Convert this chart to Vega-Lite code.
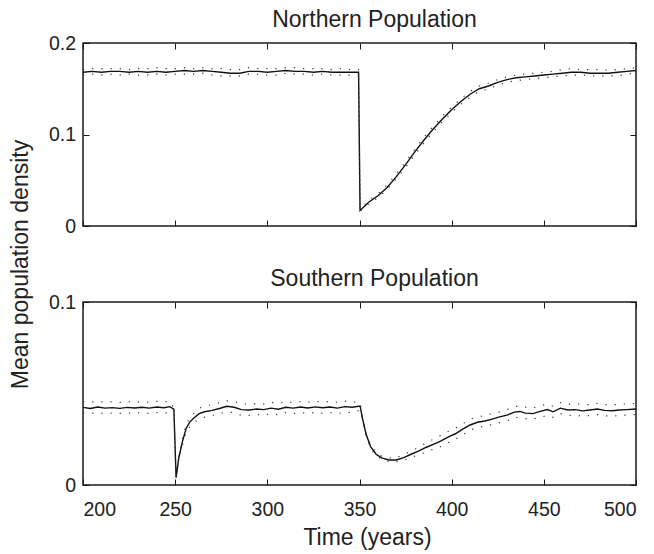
{
  "$schema": "https://vega.github.io/schema/vega-lite/v6.json",
  "padding": {"left": 8, "top": 8, "right": 5, "bottom": 5},
  "bounds": "flush",
  "spacing": 76,
  "datasets": {
    "north": [
      {"t":200,"m":0.168,"lo":0.165,"hi":0.171},{"t":205,"m":0.169,"lo":0.166,"hi":0.172},{"t":210,"m":0.168,"lo":0.165,"hi":0.172},{"t":215,"m":0.169,"lo":0.166,"hi":0.172},{"t":220,"m":0.169,"lo":0.165,"hi":0.172},{"t":225,"m":0.168,"lo":0.166,"hi":0.171},{"t":230,"m":0.169,"lo":0.165,"hi":0.172},{"t":235,"m":0.168,"lo":0.165,"hi":0.172},{"t":240,"m":0.169,"lo":0.166,"hi":0.173},{"t":245,"m":0.168,"lo":0.165,"hi":0.172},{"t":250,"m":0.169,"lo":0.166,"hi":0.172},{"t":255,"m":0.170,"lo":0.166,"hi":0.173},{"t":260,"m":0.169,"lo":0.166,"hi":0.172},{"t":265,"m":0.170,"lo":0.167,"hi":0.173},{"t":270,"m":0.169,"lo":0.165,"hi":0.172},{"t":275,"m":0.168,"lo":0.164,"hi":0.172},{"t":280,"m":0.167,"lo":0.164,"hi":0.171},{"t":285,"m":0.167,"lo":0.164,"hi":0.171},{"t":290,"m":0.169,"lo":0.166,"hi":0.173},{"t":295,"m":0.169,"lo":0.166,"hi":0.172},{"t":300,"m":0.168,"lo":0.165,"hi":0.172},{"t":305,"m":0.169,"lo":0.165,"hi":0.172},{"t":310,"m":0.170,"lo":0.167,"hi":0.173},{"t":315,"m":0.169,"lo":0.166,"hi":0.173},{"t":320,"m":0.169,"lo":0.166,"hi":0.172},{"t":325,"m":0.168,"lo":0.165,"hi":0.172},{"t":330,"m":0.169,"lo":0.166,"hi":0.172},{"t":335,"m":0.168,"lo":0.165,"hi":0.171},{"t":340,"m":0.168,"lo":0.165,"hi":0.172},{"t":345,"m":0.168,"lo":0.165,"hi":0.171},{"t":349.5,"m":0.168,"lo":0.165,"hi":0.171},
      {"t":350.3,"m":0.017,"lo":0.016,"hi":0.018},{"t":355,"m":0.026,"lo":0.024,"hi":0.028},{"t":360,"m":0.033,"lo":0.031,"hi":0.035},{"t":365,"m":0.042,"lo":0.040,"hi":0.045},{"t":370,"m":0.054,"lo":0.052,"hi":0.057},{"t":375,"m":0.067,"lo":0.064,"hi":0.070},{"t":380,"m":0.081,"lo":0.078,"hi":0.084},{"t":385,"m":0.094,"lo":0.091,"hi":0.097},{"t":390,"m":0.106,"lo":0.103,"hi":0.109},{"t":395,"m":0.117,"lo":0.114,"hi":0.120},{"t":400,"m":0.127,"lo":0.124,"hi":0.130},{"t":405,"m":0.136,"lo":0.133,"hi":0.139},{"t":410,"m":0.144,"lo":0.141,"hi":0.147},{"t":415,"m":0.150,"lo":0.147,"hi":0.153},{"t":420,"m":0.153,"lo":0.150,"hi":0.156},{"t":425,"m":0.157,"lo":0.154,"hi":0.160},{"t":430,"m":0.160,"lo":0.157,"hi":0.163},{"t":435,"m":0.162,"lo":0.159,"hi":0.165},{"t":440,"m":0.163,"lo":0.160,"hi":0.166},{"t":445,"m":0.164,"lo":0.161,"hi":0.167},{"t":450,"m":0.165,"lo":0.162,"hi":0.168},{"t":455,"m":0.166,"lo":0.163,"hi":0.169},{"t":460,"m":0.167,"lo":0.164,"hi":0.171},{"t":465,"m":0.168,"lo":0.165,"hi":0.172},{"t":470,"m":0.168,"lo":0.165,"hi":0.171},{"t":475,"m":0.167,"lo":0.164,"hi":0.171},{"t":480,"m":0.167,"lo":0.164,"hi":0.171},{"t":485,"m":0.167,"lo":0.164,"hi":0.170},{"t":490,"m":0.168,"lo":0.164,"hi":0.171},{"t":495,"m":0.169,"lo":0.166,"hi":0.172},{"t":500,"m":0.170,"lo":0.167,"hi":0.173}
    ],
    "south": [
      {"t":200,"m":0.0424,"lo":0.0394,"hi":0.0455},{"t":204,"m":0.0418,"lo":0.0392,"hi":0.0452},{"t":208,"m":0.0426,"lo":0.0395,"hi":0.0457},{"t":212,"m":0.0420,"lo":0.0390,"hi":0.0452},{"t":216,"m":0.0423,"lo":0.0393,"hi":0.0455},{"t":220,"m":0.0419,"lo":0.0391,"hi":0.0451},{"t":224,"m":0.0424,"lo":0.0394,"hi":0.0456},{"t":228,"m":0.0421,"lo":0.0392,"hi":0.0453},{"t":232,"m":0.0425,"lo":0.0395,"hi":0.0455},{"t":236,"m":0.0420,"lo":0.0391,"hi":0.0452},{"t":240,"m":0.0426,"lo":0.0396,"hi":0.0457},{"t":244,"m":0.0422,"lo":0.0392,"hi":0.0455},{"t":247,"m":0.0428,"lo":0.0397,"hi":0.0458},{"t":249.3,"m":0.0415,"lo":0.0410,"hi":0.0420},
      {"t":250.5,"m":0.0040,"lo":0.0040,"hi":0.0045},{"t":252,"m":0.0150,"lo":0.0140,"hi":0.0160},{"t":254,"m":0.0240,"lo":0.0220,"hi":0.0260},{"t":256,"m":0.0310,"lo":0.0290,"hi":0.0330},{"t":258,"m":0.0345,"lo":0.0320,"hi":0.0370},{"t":260,"m":0.0365,"lo":0.0340,"hi":0.0390},{"t":263,"m":0.0390,"lo":0.0360,"hi":0.0420},{"t":266,"m":0.0400,"lo":0.0370,"hi":0.0430},{"t":270,"m":0.0408,"lo":0.0380,"hi":0.0440},{"t":274,"m":0.0418,"lo":0.0390,"hi":0.0450},{"t":278,"m":0.0430,"lo":0.0400,"hi":0.0460},{"t":282,"m":0.0425,"lo":0.0395,"hi":0.0455},{"t":286,"m":0.0412,"lo":0.0380,"hi":0.0445},{"t":290,"m":0.0410,"lo":0.0380,"hi":0.0440},{"t":294,"m":0.0415,"lo":0.0385,"hi":0.0445},{"t":298,"m":0.0412,"lo":0.0382,"hi":0.0442},{"t":302,"m":0.0420,"lo":0.0390,"hi":0.0452},{"t":306,"m":0.0414,"lo":0.0384,"hi":0.0446},{"t":310,"m":0.0425,"lo":0.0395,"hi":0.0455},{"t":314,"m":0.0420,"lo":0.0390,"hi":0.0450},{"t":318,"m":0.0426,"lo":0.0396,"hi":0.0456},{"t":322,"m":0.0421,"lo":0.0390,"hi":0.0452},{"t":326,"m":0.0427,"lo":0.0397,"hi":0.0458},{"t":330,"m":0.0422,"lo":0.0392,"hi":0.0453},{"t":334,"m":0.0426,"lo":0.0396,"hi":0.0456},{"t":338,"m":0.0420,"lo":0.0390,"hi":0.0452},{"t":342,"m":0.0428,"lo":0.0398,"hi":0.0458},{"t":346,"m":0.0425,"lo":0.0395,"hi":0.0455},
      {"t":350.3,"m":0.0432,"lo":0.0410,"hi":0.0450},{"t":351.7,"m":0.0360,"lo":0.0350,"hi":0.0370},{"t":353.5,"m":0.0280,"lo":0.0270,"hi":0.0290},{"t":356,"m":0.0210,"lo":0.0200,"hi":0.0220},{"t":359,"m":0.0168,"lo":0.0160,"hi":0.0178},{"t":362,"m":0.0148,"lo":0.0140,"hi":0.0158},{"t":366,"m":0.0137,"lo":0.0128,"hi":0.0148},{"t":370,"m":0.0137,"lo":0.0127,"hi":0.0150},{"t":374,"m":0.0150,"lo":0.0135,"hi":0.0165},{"t":378,"m":0.0168,"lo":0.0150,"hi":0.0186},{"t":382,"m":0.0185,"lo":0.0165,"hi":0.0205},{"t":386,"m":0.0205,"lo":0.0180,"hi":0.0230},{"t":390,"m":0.0222,"lo":0.0195,"hi":0.0250},{"t":394,"m":0.0240,"lo":0.0210,"hi":0.0270},{"t":398,"m":0.0262,"lo":0.0230,"hi":0.0292},{"t":402,"m":0.0280,"lo":0.0250,"hi":0.0310},{"t":406,"m":0.0305,"lo":0.0275,"hi":0.0335},{"t":410,"m":0.0328,"lo":0.0300,"hi":0.0360},{"t":414,"m":0.0343,"lo":0.0315,"hi":0.0372},{"t":418,"m":0.0350,"lo":0.0320,"hi":0.0380},{"t":422,"m":0.0360,"lo":0.0330,"hi":0.0390},{"t":426,"m":0.0372,"lo":0.0340,"hi":0.0400},{"t":430,"m":0.0382,"lo":0.0350,"hi":0.0412},{"t":434,"m":0.0398,"lo":0.0368,"hi":0.0428},{"t":437,"m":0.0402,"lo":0.0370,"hi":0.0432},{"t":440,"m":0.0393,"lo":0.0363,"hi":0.0425},{"t":444,"m":0.0390,"lo":0.0360,"hi":0.0420},{"t":448,"m":0.0402,"lo":0.0370,"hi":0.0432},{"t":452,"m":0.0412,"lo":0.0380,"hi":0.0442},{"t":455,"m":0.0400,"lo":0.0370,"hi":0.0430},{"t":459,"m":0.0420,"lo":0.0390,"hi":0.0450},{"t":463,"m":0.0410,"lo":0.0380,"hi":0.0440},{"t":467,"m":0.0412,"lo":0.0382,"hi":0.0445},{"t":471,"m":0.0405,"lo":0.0375,"hi":0.0438},{"t":475,"m":0.0410,"lo":0.0380,"hi":0.0440},{"t":479,"m":0.0415,"lo":0.0385,"hi":0.0446},{"t":483,"m":0.0408,"lo":0.0378,"hi":0.0440},{"t":487,"m":0.0406,"lo":0.0376,"hi":0.0437},{"t":491,"m":0.0410,"lo":0.0380,"hi":0.0442},{"t":495,"m":0.0412,"lo":0.0382,"hi":0.0443},{"t":500,"m":0.0415,"lo":0.0385,"hi":0.0446}
    ]
  },
  "vconcat": [
    {
      "title": {"text": "Northern Population"},
      "width": 553,
      "height": 183,
      "data": {"name": "north"},
      "layer": [
        {
          "mark": {"type": "line", "color": "#111", "strokeWidth": 1.4},
          "encoding": {
            "x": {"field": "t", "type": "quantitative", "scale": {"domain": [200, 500], "nice": false, "zero": false},
                  "axis": {"values": [200, 250, 300, 350, 400, 450, 500], "labels": false, "title": null}},
            "y": {"field": "m", "type": "quantitative", "scale": {"domain": [0, 0.2], "nice": false},
                  "axis": {"values": [0, 0.1, 0.2], "format": "~g", "title": "Mean population density", "titleX": -56, "titleY": 221, "titleBaseline": "alphabetic", "titleAngle": -90, "titleAlign": "center"}}
          }
        },
        {
          "mark": {"type": "line", "color": "#333", "strokeDash": [1.2, 8], "strokeWidth": 1.2},
          "encoding": {
            "x": {"field": "t", "type": "quantitative", "axis": {"orient": "top", "values": [200, 250, 300, 350, 400, 450, 500], "labels": false, "title": null}},
            "y": {"field": "lo", "type": "quantitative", "axis": {"orient": "right", "values": [0, 0.1, 0.2], "labels": false, "title": null}}
          }
        },
        {
          "mark": {"type": "line", "color": "#333", "strokeDash": [1.2, 8], "strokeWidth": 1.2},
          "encoding": {
            "x": {"field": "t", "type": "quantitative", "axis": null},
            "y": {"field": "hi", "type": "quantitative", "axis": null}
          }
        }
      ],
      "resolve": {"axis": {"x": "independent", "y": "independent"}}
    },
    {
      "title": {"text": "Southern Population"},
      "width": 553,
      "height": 183,
      "data": {"name": "south"},
      "layer": [
        {
          "mark": {"type": "line", "color": "#111", "strokeWidth": 1.4},
          "encoding": {
            "x": {"field": "t", "type": "quantitative", "scale": {"domain": [200, 500], "nice": false, "zero": false},
                  "axis": {"values": [200, 250, 300, 350, 400, 450, 500], "format": "d", "title": "Time (years)", "titleX": 284, "titleY": 59, "titleBaseline": "alphabetic", "titleAlign": "center"}},
            "y": {"field": "m", "type": "quantitative", "scale": {"domain": [0, 0.1], "nice": false},
                  "axis": {"values": [0, 0.1], "format": "~g", "title": null}}
          }
        },
        {
          "mark": {"type": "line", "color": "#333", "strokeDash": [1.2, 8], "strokeWidth": 1.2},
          "encoding": {
            "x": {"field": "t", "type": "quantitative", "axis": {"orient": "top", "values": [200, 250, 300, 350, 400, 450, 500], "labels": false, "title": null}},
            "y": {"field": "lo", "type": "quantitative", "axis": {"orient": "right", "values": [0, 0.1], "labels": false, "title": null}}
          }
        },
        {
          "mark": {"type": "line", "color": "#333", "strokeDash": [1.2, 8], "strokeWidth": 1.2},
          "encoding": {
            "x": {"field": "t", "type": "quantitative", "axis": null},
            "y": {"field": "hi", "type": "quantitative", "axis": null}
          }
        }
      ],
      "resolve": {"axis": {"x": "independent", "y": "independent"}}
    }
  ],
  "config": {
    "font": "Liberation Sans",
    "background": "white",
    "view": {"stroke": "#1a1a1a", "strokeWidth": 1.5},
    "axis": {
      "domain": false,
      "grid": false,
      "tickSize": -6,
      "tickColor": "#1a1a1a",
      "tickWidth": 1,
      "labelFont": "Liberation Sans",
      "labelFontSize": 19.5,
      "labelColor": "#222",
      "titleFont": "Liberation Sans",
      "titleFontSize": 23,
      "titleFontWeight": "normal",
      "titleColor": "#222"
    },
    "axisBottom": {"labelPadding": 21},
    "axisLeft": {"labelPadding": 13.5},
    "title": {"font": "Liberation Sans", "fontSize": 23, "fontWeight": "normal", "color": "#222", "baseline": "alphabetic", "offset": 1, "dx": 15}
  }
}
